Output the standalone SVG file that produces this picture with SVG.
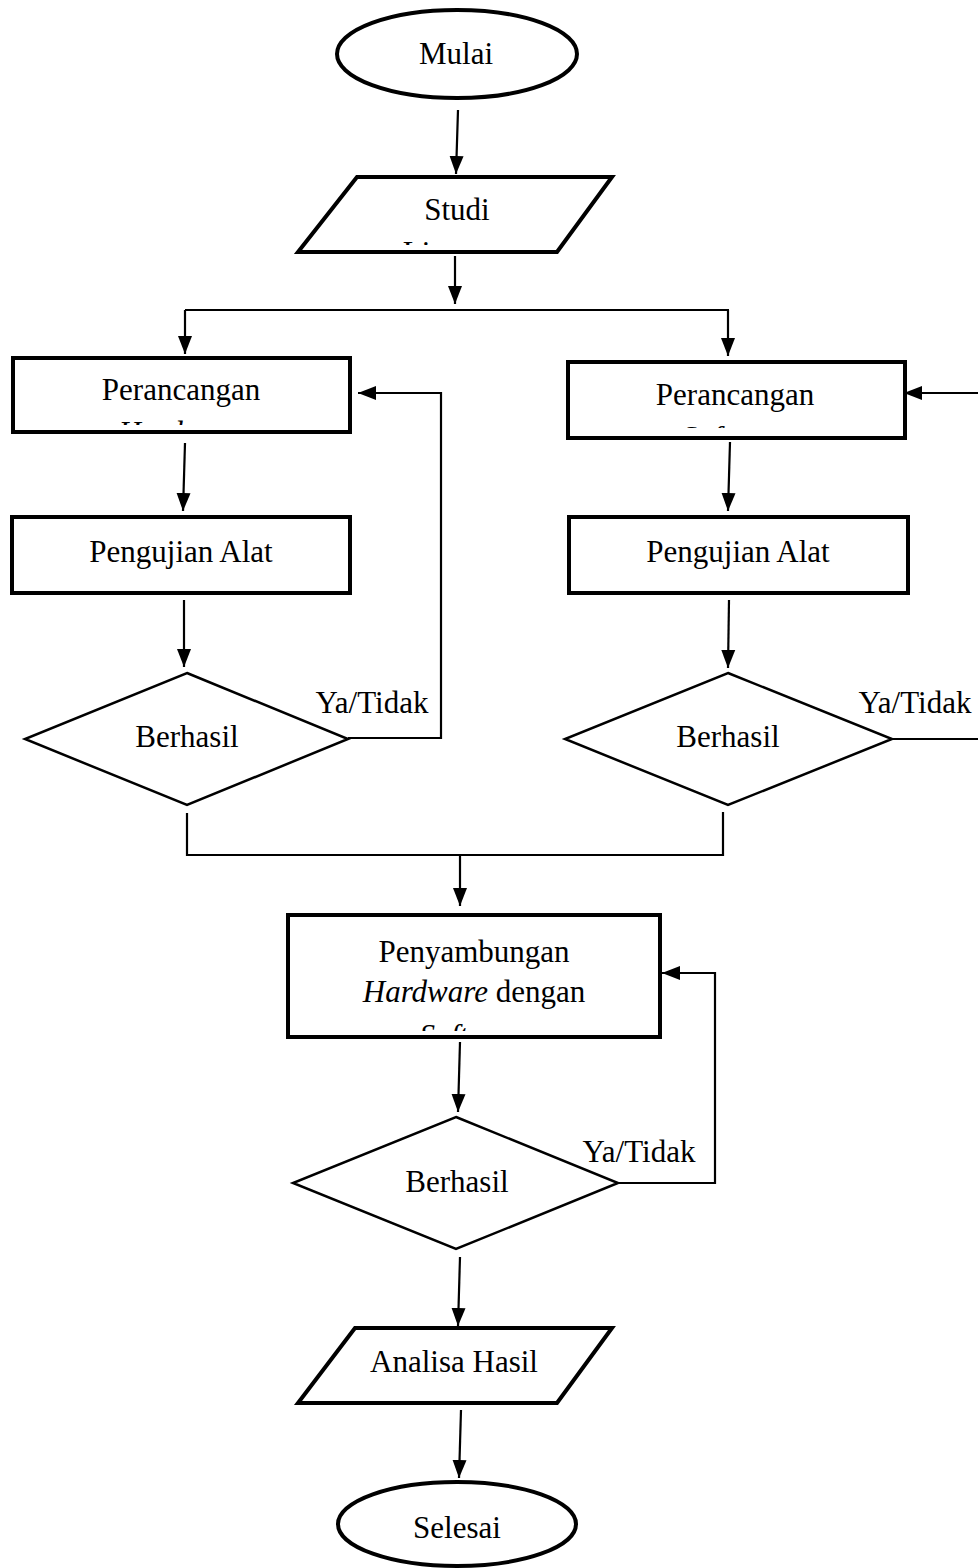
<svg xmlns="http://www.w3.org/2000/svg" width="978" height="1568" viewBox="0 0 978 1568">
<style>
text{font-family:"Liberation Serif","Times New Roman",serif;font-size:31px;fill:#000;text-anchor:middle}
.it{font-style:italic}
.thick{fill:#fff;stroke:#000;stroke-width:4}
.thin{fill:#fff;stroke:#000;stroke-width:2.5}
.conn{fill:none;stroke:#000;stroke-width:2.2}
</style>
<defs>
<marker id="ah" markerUnits="userSpaceOnUse" markerWidth="18" markerHeight="16" refX="18" refY="8" orient="auto">
<path d="M0,1 L18,8 L0,15 z" fill="#000"/>
</marker>
<clipPath id="cStudi"><rect x="300" y="179" width="300" height="66"/></clipPath>
<clipPath id="cPerH"><rect x="15" y="360" width="333" height="65"/></clipPath>
<clipPath id="cPerS"><rect x="570" y="364" width="333" height="64"/></clipPath>
<clipPath id="cPeny"><rect x="290" y="917" width="368" height="114"/></clipPath>
</defs>

<g id="connectors">
<path class="conn" d="M458,110 L456,174" marker-end="url(#ah)"/>
<path class="conn" d="M455,256 L455,304" marker-end="url(#ah)"/>
<path class="conn" d="M185,310 L729,310"/>
<path class="conn" d="M185,310 L185,354" marker-end="url(#ah)"/>
<path class="conn" d="M728,310 L728,356" marker-end="url(#ah)"/>
<path class="conn" d="M185,443 L183,511" marker-end="url(#ah)"/>
<path class="conn" d="M730,442 L728,511" marker-end="url(#ah)"/>
<path class="conn" d="M184,600 L184,667" marker-end="url(#ah)"/>
<path class="conn" d="M729,600 L728,668" marker-end="url(#ah)"/>
<path class="conn" d="M348,738 L441,738 L441,393 L358,393" marker-end="url(#ah)"/>
<path class="conn" d="M892,739 L992,739 L992,393 L904,393" marker-end="url(#ah)"/>
<path class="conn" d="M187,813 L187,855 L723,855 L723,812"/>
<path class="conn" d="M460,855 L460,906" marker-end="url(#ah)"/>
<path class="conn" d="M460,1042 L458,1112" marker-end="url(#ah)"/>
<path class="conn" d="M618,1183 L715,1183 L715,973 L662,973" marker-end="url(#ah)"/>
<path class="conn" d="M460,1257 L458,1326" marker-end="url(#ah)"/>
<path class="conn" d="M461,1410 L459,1478" marker-end="url(#ah)"/>
</g>

<g id="mulai">
<ellipse class="thick" cx="457" cy="54" rx="120" ry="44"/>
<text x="456" y="64">Mulai</text>
</g>

<g id="studi">
<polygon class="thick" points="357,177 612,177 557,252 298,252"/>
<text x="457" y="220">Studi</text>
<text x="457" y="263" clip-path="url(#cStudi)">Literatur</text>
</g>

<g id="perancangan-hardware">
<rect class="thick" x="13" y="358" width="337" height="74"/>
<text x="181" y="400">Perancangan</text>
<text class="it" x="181" y="443" clip-path="url(#cPerH)">Hardware</text>
</g>

<g id="perancangan-software">
<rect class="thick" x="568" y="362" width="337" height="76"/>
<text x="735" y="405">Perancangan</text>
<text class="it" x="736" y="448" clip-path="url(#cPerS)">Software</text>
</g>

<g id="pengujian-hardware">
<rect class="thick" x="12" y="517" width="338" height="76"/>
<text x="181" y="562">Pengujian Alat</text>
</g>

<g id="pengujian-software">
<rect class="thick" x="569" y="517" width="339" height="76"/>
<text x="738" y="562">Pengujian Alat</text>
</g>

<g id="berhasil-hardware">
<polygon class="thin" points="187,673 348,739 187,805 25,739"/>
<text x="187" y="747">Berhasil</text>
<text x="372" y="713">Ya/Tidak</text>
</g>

<g id="berhasil-software">
<polygon class="thin" points="728,673 892,739 728,805 565,739"/>
<text x="728" y="747">Berhasil</text>
<text x="915" y="713">Ya/Tidak</text>
</g>

<g id="penyambungan">
<rect class="thick" x="288" y="915" width="372" height="122"/>
<text x="474" y="962">Penyambungan</text>
<text x="474" y="1002"><tspan class="it">Hardware</tspan> dengan</text>
<text class="it" x="474" y="1046" clip-path="url(#cPeny)">Software</text>
</g>

<g id="berhasil-akhir">
<polygon class="thin" points="456,1117 618,1183 456,1249 293,1183"/>
<text x="457" y="1192">Berhasil</text>
<text x="639" y="1162">Ya/Tidak</text>
</g>

<g id="analisa">
<polygon class="thick" points="355,1328 612,1328 557,1403 298,1403"/>
<text x="454" y="1372">Analisa Hasil</text>
</g>

<g id="selesai">
<ellipse class="thick" cx="457" cy="1524" rx="119" ry="42"/>
<text x="457" y="1538">Selesai</text>
</g>
</svg>
